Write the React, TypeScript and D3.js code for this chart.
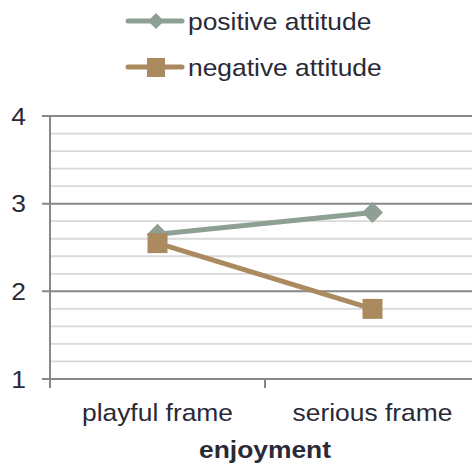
import React from "react";
import * as d3 from "d3";

const categories = ["playful frame", "serious frame"];
const positiveAttitude = [2.65, 2.9];
const negativeAttitude = [2.55, 1.8];
const yTicks = [1, 2, 3, 4];
const seriesNames = ["positive attitude", "negative attitude"];
const xTitle = "enjoyment";

const W = 472;
const H = 464;
const FONT = "'Liberation Sans', Arial, sans-serif";
const TEXT = "#2a2a36";
const POS = "#8E9F93";
const NEG = "#AB8A5F";
const MAJOR = "#878787";
const MINOR = "#D9D9D9";
const SX = 1.1;

export default function App() {
  const x = d3.scaleBand<string>().domain(categories).range([50, 480]).padding(0);
  const y = d3.scaleLinear().domain([1, 4]).range([379, 116]);
  const cx = (c: string) => (x(c) ?? 0) + x.bandwidth() / 2;

  const minorTicks = d3.range(1, 4.0001, 0.2).filter((v) => Math.abs(v - Math.round(v)) > 1e-6);
  const line = d3
    .line<[string, number]>()
    .x((d) => cx(d[0]))
    .y((d) => y(d[1]));

  const posData: [string, number][] = categories.map((c, i) => [c, positiveAttitude[i]]);
  const negData: [string, number][] = categories.map((c, i) => [c, negativeAttitude[i]]);

  const diamond = (px: number, py: number, r: number) =>
    `M${px},${py - r}L${px + r},${py}L${px},${py + r}L${px - r},${py}Z`;

  const boundaries = [50, ...categories.map((c) => (x(c) ?? 0) + x.bandwidth())];

  return (
    <svg width={W} height={H} style={{ position: "absolute", left: 0, top: 0 }} fontFamily={FONT}>
      <rect width={W} height={H} fill="#fff" />
      {/* minor gridlines */}
      {minorTicks.map((v) => (
        <line key={`m${v}`} x1={50} x2={480} y1={y(v)} y2={y(v)} stroke={MINOR} strokeWidth={1.8} />
      ))}
      {/* major gridlines + left ticks */}
      {yTicks.map((v) => (
        <g key={`M${v}`}>
          <line x1={42} x2={480} y1={y(v)} y2={y(v)} stroke={MAJOR} strokeWidth={2} />
          <text
            transform={`translate(26,${y(v) + 8.5}) scale(${SX},1)`}
            textAnchor="end"
            fontSize={24}
            fill={TEXT}
          >
            {v}
          </text>
        </g>
      ))}
      {/* y axis */}
      <line x1={50} x2={50} y1={116} y2={388} stroke={MAJOR} strokeWidth={2} />
      {/* category boundary ticks */}
      {boundaries.slice(1).map((bx) => (
        <line key={`b${bx}`} x1={bx} x2={bx} y1={379} y2={388} stroke={MAJOR} strokeWidth={2} />
      ))}
      {/* category labels */}
      {categories.map((c) => (
        <text
          key={c}
          transform={`translate(${cx(c)},421) scale(${SX},1)`}
          textAnchor="middle"
          fontSize={24}
          fill={TEXT}
        >
          {c}
        </text>
      ))}
      <text
        transform={`translate(265,458) scale(${SX},1)`}
        textAnchor="middle"
        fontSize={24}
        fontWeight="bold"
        fill={TEXT}
      >
        {xTitle}
      </text>

      {/* positive series */}
      <path d={line(posData) ?? ""} fill="none" stroke={POS} strokeWidth={5} />
      {posData.map((d) => (
        <path key={`p${d[0]}`} d={diamond(cx(d[0]), y(d[1]), 10.5)} fill={POS} />
      ))}
      {/* negative series */}
      <path d={line(negData) ?? ""} fill="none" stroke={NEG} strokeWidth={5} />
      {negData.map((d) => (
        <rect key={`n${d[0]}`} x={cx(d[0]) - 10} y={y(d[1]) - 10} width={20} height={20} fill={NEG} />
      ))}

      {/* legend */}
      <g>
        <line x1={128} x2={182} y1={21} y2={21} stroke={POS} strokeWidth={5} strokeLinecap="round" />
        <path d={diamond(156, 21, 8)} fill={POS} />
        <text transform={`translate(188,30) scale(${SX},1)`} fontSize={24} fill={TEXT}>
          {seriesNames[0]}
        </text>
        <line x1={128} x2={182} y1={67} y2={67} stroke={NEG} strokeWidth={5} strokeLinecap="round" />
        <rect x={147} y={58} width={18} height={19} fill={NEG} />
        <text transform={`translate(188,76) scale(${SX},1)`} fontSize={24} fill={TEXT}>
          {seriesNames[1]}
        </text>
      </g>
    </svg>
  );
}
